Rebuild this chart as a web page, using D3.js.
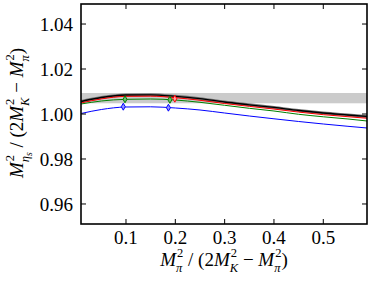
<!DOCTYPE html>
<html>
<head>
<meta charset="utf-8">
<script src="https://cdn.jsdelivr.net/npm/d3@7"></script>
<style>
  body { margin: 0; background: #fff; }
  text { font-family: "Liberation Serif", "Times New Roman", serif; fill: #000; white-space: pre; }
</style>
</head>
<body>
<svg id="chart" width="373" height="284"></svg>
<script>
// sample points along the fit curves
var xs = [0.0088, 0.05, 0.1, 0.15, 0.2, 0.25, 0.3, 0.35, 0.4, 0.45, 0.5, 0.55, 0.5886];
var blackVals = [1.00556, 1.00733, 1.00844, 1.00853, 1.00787, 1.0068, 1.00533, 1.0041, 1.0029, 1.00156, 1.00044, 0.99956, 0.99889];
var redVals   = [1.00490, 1.00670, 1.00785, 1.00793, 1.00725, 1.0061, 1.00465, 1.0034, 1.0022, 1.00085, 0.99970, 0.99880, 0.99810];
var greenVals = [1.00444, 1.00578, 1.00653, 1.00667, 1.00622, 1.0052, 1.00387, 1.00253, 1.00133, 0.99987, 0.99876, 0.99778, 0.99689];
var blueVals  = [1.00022, 1.0020, 1.00311, 1.0032, 1.00267, 1.00178, 1.00044, 0.99911, 0.99787, 0.99667, 0.99556, 0.99453, 0.99378];

// lattice points
var bluePts  = [[0.0945, 1.00324], [0.186, 1.0028]];
var greenPts = [[0.098, 1.00653], [0.189, 1.00630]];
var redPts   = [[0.199, 1.00680]];

// experimental band
var band = [1.00476, 1.00933];

var xTicks = [0.1, 0.2, 0.3, 0.4, 0.5];
var yTicks = [0.96, 0.98, 1.00, 1.02, 1.04];

var svg = d3.select("#chart");
var pl = 81, pr = 367, pt = 4, pb = 224;

var x = d3.scaleLinear().domain([0.0088, 0.5886]).range([pl, pr]);
var y = d3.scaleLinear().domain([0.9511, 1.0489]).range([pb, pt]);

svg.append("clipPath").attr("id", "clip")
  .append("rect").attr("x", pl).attr("y", pt).attr("width", pr - pl).attr("height", pb - pt);

var plot = svg.append("g").attr("clip-path", "url(#clip)");

plot.append("rect")
  .attr("x", pl).attr("width", pr - pl)
  .attr("y", y(band[1])).attr("height", y(band[0]) - y(band[1]))
  .attr("fill", "#cbcbcb");

function series(vals) {
  return xs.map(function(d, i) { return [d, vals[i]]; });
}

var line = d3.line().x(d => x(d[0])).y(d => y(d[1])).curve(d3.curveMonotoneX);

// black line with a grey error halo
plot.append("path").attr("d", line(series(blackVals)))
  .attr("fill", "none").attr("stroke", "#777").attr("stroke-width", 3);
plot.append("path").attr("d", line(series(blackVals)))
  .attr("fill", "none").attr("stroke", "#000").attr("stroke-width", 1.3);

[[redVals, "#ff0000"], [greenVals, "#008000"], [blueVals, "#0000ff"]].forEach(function(s) {
  plot.append("path").attr("d", line(series(s[0])))
    .attr("fill", "none").attr("stroke", s[1]).attr("stroke-width", 1);
});

var diamond = d3.symbol().type(d3.symbolDiamond).size(14);
[[bluePts, "#0000ff", "#9090ff"], [greenPts, "#008000", "#70b870"], [redPts, "#ff0000", "#ffa0a0"]].forEach(function(s) {
  plot.selectAll(null).data(s[0]).enter().append("path")
    .attr("d", diamond)
    .attr("transform", d => "translate(" + x(d[0]) + "," + y(d[1]) + ")")
    .attr("fill", s[2]).attr("stroke", s[1]).attr("stroke-width", 1);
});

// ticks on all four sides, pointing inward
var tickLen = 5;
xTicks.forEach(function(t) {
  svg.append("line").attr("x1", x(t)).attr("x2", x(t)).attr("y1", pb).attr("y2", pb - tickLen).attr("stroke", "#000");
  svg.append("line").attr("x1", x(t)).attr("x2", x(t)).attr("y1", pt).attr("y2", pt + tickLen).attr("stroke", "#000");
  svg.append("text").attr("x", x(t)).attr("y", 244).attr("text-anchor", "middle")
    .style("font-size", "19px").text(d3.format(".1f")(t));
});
yTicks.forEach(function(t) {
  svg.append("line").attr("x1", pl).attr("x2", pl + tickLen).attr("y1", y(t)).attr("y2", y(t)).attr("stroke", "#000");
  svg.append("line").attr("x1", pr).attr("x2", pr - tickLen).attr("y1", y(t)).attr("y2", y(t)).attr("stroke", "#000");
  svg.append("text").attr("x", 73).attr("y", y(t)).attr("dy", "0.35em").attr("text-anchor", "end")
    .style("font-size", "19px").text(d3.format(".2f")(t));
});

svg.append("rect").attr("x", pl).attr("y", pt).attr("width", pr - pl).attr("height", pb - pt)
  .attr("fill", "none").attr("stroke", "#000").attr("stroke-width", 1.6);

// math-style label: lays out pieces left to right, then centres
function mathLabel(g, parts, size) {
  var cx = 0;
  parts.forEach(function(p) {
    var t = g.append("text").attr("x", cx).attr("y", 0).style("font-size", size + "px")
      .style("font-style", p.i ? "italic" : "normal").text(p.t);
    cx += t.node().getComputedTextLength();
    var w = 0;
    if (p.sup) {
      var s = g.append("text").attr("x", cx + 1).attr("y", -size * 0.46).style("font-size", (size * 0.66) + "px").text(p.sup);
      w = Math.max(w, s.node().getComputedTextLength() + 1);
    }
    if (p.sub) {
      var b = g.append("text").attr("x", cx).attr("y", size * 0.34).style("font-size", (size * 0.66) + "px")
        .style("font-style", "italic").text(p.sub);
      w = Math.max(w, b.node().getComputedTextLength());
      if (p.sub2) {
        var b2 = g.append("text").attr("x", cx + b.node().getComputedTextLength()).attr("y", size * 0.48)
          .style("font-size", (size * 0.5) + "px").style("font-style", "italic").text(p.sub2);
        w = Math.max(w, b.node().getComputedTextLength() + b2.node().getComputedTextLength());
      }
    }
    cx += w;
  });
  g.selectAll("text").attr("x", function() { return +d3.select(this).attr("x") - cx / 2; });
}

var xlab = svg.append("g").attr("transform", "translate(224,266)");
mathLabel(xlab, [
  {t: "M", i: true, sup: "2", sub: "π"},
  {t: " / (2"},
  {t: "M", i: true, sup: "2", sub: "K"},
  {t: " − "},
  {t: "M", i: true, sup: "2", sub: "π"},
  {t: ")"}
], 19);

var ylab = svg.append("g").attr("transform", "translate(23,113) rotate(-90)");
mathLabel(ylab, [
  {t: "M", i: true, sup: "2", sub: "η", sub2: "s"},
  {t: " / (2"},
  {t: "M", i: true, sup: "2", sub: "K"},
  {t: " − "},
  {t: "M", i: true, sup: "2", sub: "π"},
  {t: ")"}
], 19);
</script>
</body>
</html>
